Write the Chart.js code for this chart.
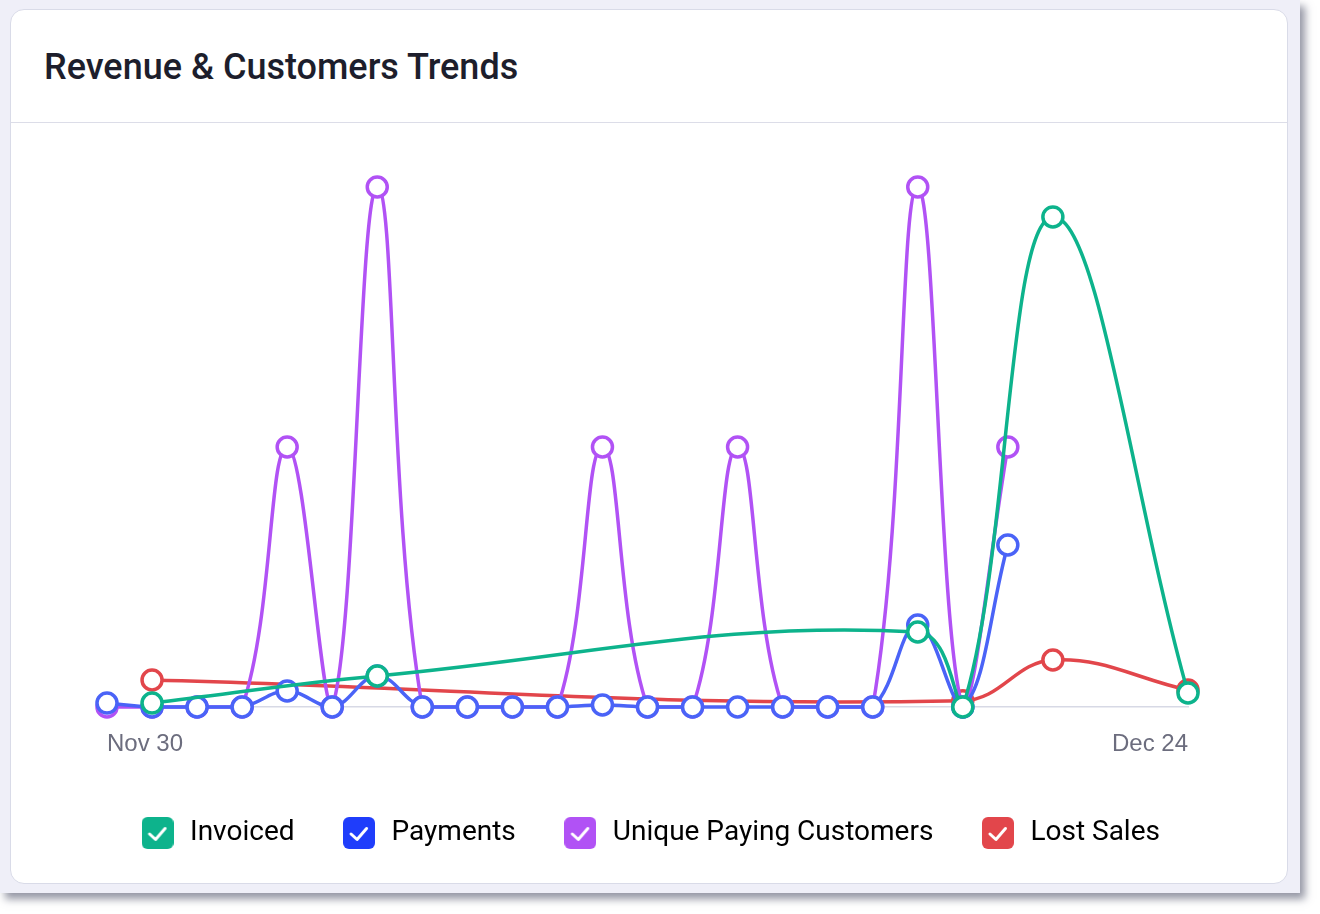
<!DOCTYPE html>
<html>
<head>
<meta charset="utf-8">
<script src="https://cdn.jsdelivr.net/npm/chart.js@4"></script>
<style>
  body { margin: 0; background: #fff; }
  .frame {
    position: absolute; left: 0; top: 0; width: 1300px; height: 893px;
    background: #efeff8;
    box-shadow: 5px 6px 8px rgba(60, 64, 90, 0.55);
  }
  .card {
    position: absolute; left: 10px; top: 9px; width: 1276px; height: 873px;
    background: #fff; border: 1.5px solid #d9dbe8; border-radius: 14px;
  }
  .title {
    position: absolute; left: 33px; top: 39px; margin: 0;
    font: 500 36px/1 Roboto, sans-serif; color: #1d1e2c;
  }
  .divider { position: absolute; left: 0; right: 0; top: 112px; border-top: 1.5px solid #dcdde8; }
  #chart { position: absolute; left: 10px; top: 123px; }
</style>
</head>
<body>
<div class="frame">
  <div class="card">
    <h2 class="title">Revenue &amp; Customers Trends</h2>
    <div class="divider"></div>
  </div>
  <canvas id="chart" width="1279" height="762"></canvas>
</div>
<script>
// days on the x axis
const labels = ['Nov 30', 'Dec 1', 'Dec 2', 'Dec 3', 'Dec 4', 'Dec 5', 'Dec 6', 'Dec 7', 'Dec 8',
  'Dec 9', 'Dec 10', 'Dec 11', 'Dec 12', 'Dec 13', 'Dec 14', 'Dec 15', 'Dec 16', 'Dec 17',
  'Dec 18', 'Dec 19', 'Dec 20', 'Dec 21', 'Dec 22', 'Dec 23', 'Dec 24'];

// revenue series (gaps = no entry that day)
const invoiced = [null, 38, null, null, null, null, 298, null, null, null, null, null, null,
  null, null, null, null, null, 721, 0, null, 4712, null, null, 135];
const payments = [38, 0, 0, 0, 154, 0, 298, 0, 0, 0, 0, 19, 0, 0, 0, 0, 0, 0, 788, 0, 1558,
  null, null, null, null];
const lostSales = [null, 260, null, null, null, null, null, null, null, null, null, null, null,
  null, null, null, null, null, null, 60, null, 452, null, null, 163];

// customer counts
const customers = [0, 0, 0, 0, 1, 0, 2, 0, 0, 0, 0, 1, 0, 0, 1, 0, 0, 0, 2, 0, 1,
  null, null, null, null];

const seriesNames = ['Invoiced', 'Payments', 'Unique Paying Customers', 'Lost Sales'];
const lineColors = ['#0db38c', '#4a63f7', '#b152f5', '#e2464b'];
const boxColors = ['#0db38c', '#1f3dfb', '#b152f5', '#e2464b'];

function checkIcon(color) {
  var c = document.createElement('canvas');
  c.width = 32; c.height = 32;
  var ctx = c.getContext('2d');
  ctx.fillStyle = color;
  ctx.beginPath();
  ctx.roundRect(0, 0, 32, 32, 6);
  ctx.fill();
  ctx.strokeStyle = '#fff';
  ctx.lineWidth = 3;
  ctx.lineCap = 'round';
  ctx.lineJoin = 'round';
  ctx.beginPath();
  ctx.moveTo(8, 17);
  ctx.lineTo(14, 22.5);
  ctx.lineTo(23.5, 11.5);
  ctx.stroke();
  return c;
}
const legendIcons = boxColors.map(checkIcon);

function series(i, data, axis) {
  return {
    label: seriesNames[i],
    data: data,
    yAxisID: axis,
    borderColor: lineColors[i],
    backgroundColor: '#fff',
    borderWidth: 3.5,
    tension: 0.4,
    spanGaps: true,
    pointRadius: 10,
    pointBorderWidth: 3.5,
    pointBackgroundColor: '#fff',
    pointBorderColor: lineColors[i],
    clip: false
  };
}

// hidden y axes only reserve the side gaps so the legend keeps the full width
function sideAxis(min, max, pos, width) {
  return {
    position: pos, min: min, max: max,
    grid: { display: false, drawTicks: false },
    border: { display: false },
    ticks: { display: false },
    afterFit: function (scale) { scale.width = width; }
  };
}

Chart.defaults.font.family = 'Roboto';

new Chart(document.getElementById('chart'), {
  type: 'line',
  data: {
    labels: labels,
    datasets: [
      series(0, invoiced, 'y'),
      series(1, payments, 'y'),
      series(2, customers, 'y1'),
      series(3, lostSales, 'y')
    ]
  },
  options: {
    responsive: false,
    animation: false,
    layout: { padding: { top: 64, left: 0, right: 0, bottom: 28 } },
    scales: {
      x: {
        grid: { display: false, drawTicks: false },
        border: { display: true, color: '#d7d9e5', width: 1.5 },
        ticks: {
          autoSkip: false,
          maxRotation: 0,
          align: 'inner',
          padding: 23,
          color: '#6c6d7e',
          font: { family: 'Liberation Sans', size: 24 },
          callback: function (v, i, ticks) {
            return (i === 0 || i === ticks.length - 1) ? this.getLabelForValue(v) : '';
          }
        },
        afterFit: function (scale) { scale.height = 66; }
      },
      y: sideAxis(0, 5000, 'left', 97),
      y1: sideAxis(0, 2, 'right', 101)
    },
    plugins: {
      tooltip: { enabled: false },
      legend: {
        position: 'bottom',
        labels: {
          usePointStyle: true,
          pointStyleWidth: 37,
          padding: 46,
          color: '#33354a',
          font: { size: 28 },
          generateLabels: function (chart) {
            return chart.data.datasets.map(function (ds, i) {
              return {
                text: ds.label,
                pointStyle: legendIcons[i],
                fillStyle: boxColors[i],
                strokeStyle: boxColors[i],
                lineWidth: 0,
                hidden: false,
                datasetIndex: i
              };
            });
          }
        }
      }
    }
  }
});
</script>
</body>
</html>
